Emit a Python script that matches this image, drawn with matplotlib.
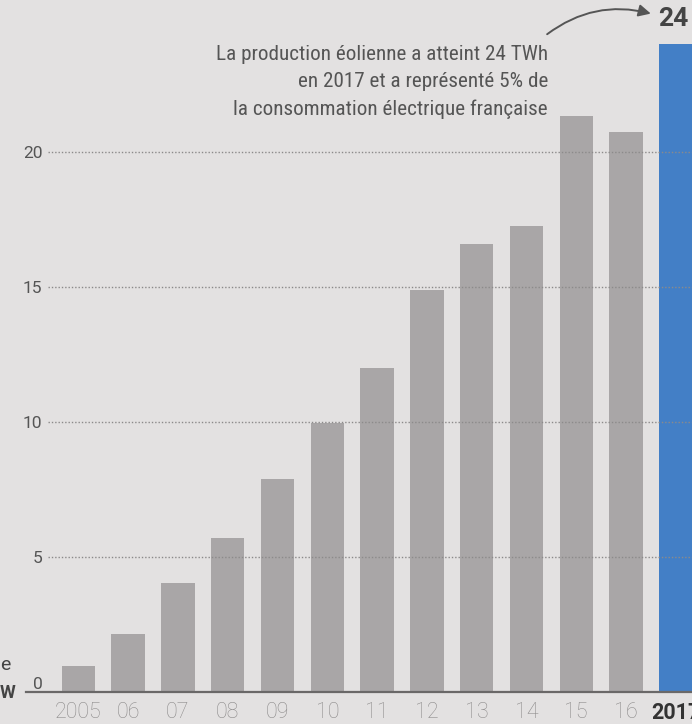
import matplotlib.pyplot as plt
import matplotlib.transforms as mtransforms
import numpy as np

# production éolienne en France, TWh
years = ['2005', '06', '07', '08', '09', '10', '11', '12', '13', '14', '15', '16', '2017']
values = [0.95, 2.15, 4.05, 5.7, 7.9, 9.95, 12.0, 14.9, 16.6, 17.25, 21.35, 20.75, 24.0]
yticks = [0, 5, 10, 15, 20]
note = "La production éolienne a atteint 24 TWh\nen 2017 et a représenté 5% de\nla consommation électrique française"

paper = '#e3e1e1'
grey_bar = '#a9a6a7'
blue_bar = '#437fc6'
cond = ['Roboto Condensed', 'DejaVu Sans Condensed', 'Liberation Sans Narrow', 'Roboto', 'DejaVu Sans']
plt.rcParams['font.family'] = ['Roboto', 'DejaVu Sans']

W, H = 692, 724
fig = plt.figure(figsize=(W / 100, H / 100), dpi=100)
fig.patch.set_facecolor(paper)
ax = fig.add_axes([48 / W, 1 - 692 / H, 644 / W, 692 / H])
ax.set_facecolor('none')

x = np.arange(len(years))
step = 49.8
ax.set_xlim((48 - 78.3) / step, (692 - 78.3) / step)
ax.set_ylim(0, 692 / 27)

colors = [grey_bar] * (len(years) - 1) + [blue_bar]
ax.bar(x, values, width=0.67, color=colors, zorder=2)

for y in yticks[1:]:
    ax.axhline(y, color='#8c8a8a', lw=1.0, ls=(0, (1, 1.4)), zorder=3)
ax.plot([-1.05, 12.5], [0, 0], color='#6a6868', lw=1.6, clip_on=False, zorder=4)

for s in ax.spines.values():
    s.set_visible(False)

ax.set_yticks(yticks)
ax.set_yticklabels([str(v) for v in yticks], fontsize=12.5, color='#555555')
ax.set_xticks(x)
ax.set_xticklabels(years, fontsize=15.5, color='#8e8c8c', fontweight='light')
ax.tick_params(axis='both', length=0)
ax.tick_params(axis='y', pad=4)
ax.tick_params(axis='x', pad=7)
last = ax.get_xticklabels()[-1]
last.set_fontweight('bold')
last.set_color('#333333')
# le 0 est posé un peu au-dessus de la ligne de base
zero = ax.get_yticklabels()[0]
zero.set_transform(zero.get_transform() +
                   mtransforms.ScaledTranslation(0, 9 / 100, fig.dpi_scale_trans))

# valeur 2017 et annotation
ax.text(x[-1] - 0.05, values[-1] + 0.5, '24', fontsize=19, fontweight='bold',
        color='#444444', ha='center', va='bottom', clip_on=False)
fig.text(548 / W, 1 - 45 / H, note, family=cond, fontsize=15.2, color='#555555',
         ha='right', va='top', linespacing=1.55)
ax.annotate('', xy=(11.55, 25.1), xytext=(9.37, 24.3),
            arrowprops=dict(arrowstyle='-|>', color='#555555', lw=1.4,
                            mutation_scale=18,
                            connectionstyle='arc3,rad=-0.25'))

# fragments de texte coupés à gauche
fig.text(0, 1 - 665 / H, 'e', fontsize=14, color='#444444', ha='left', va='center')
fig.text(0, 1 - 693 / H, 'W', fontsize=13, fontweight='bold', color='#444444',
         ha='left', va='center')

fig.savefig('out.png', dpi=100, facecolor=paper)
